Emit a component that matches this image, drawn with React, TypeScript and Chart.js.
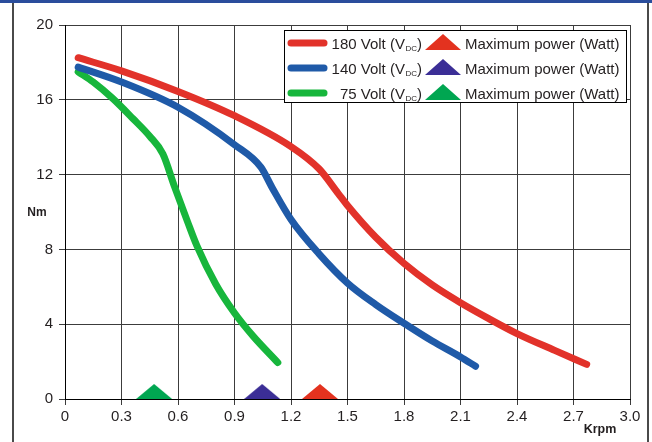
import React, { useEffect, useRef } from 'react';
import { Chart, registerables } from 'chart.js';

Chart.register(...registerables);

// ---------------- data ----------------
const xTickValues = [0, 0.3, 0.6, 0.9, 1.2, 1.5, 1.8, 2.1, 2.4, 2.7, 3.0];
const xTickLabels = ['0', '0.3', '0.6', '0.9', '1.2', '1.5', '1.8', '2.1', '2.4', '2.7', '3.0'];
const yTickValues = [0, 4, 8, 12, 16, 20];
const yTickLabels = ['0', '4', '8', '12', '16', '20'];

const seriesLabels = ['180 Volt', '140 Volt', '75 Volt'];
const maxPowerLabel = 'Maximum power (Watt)';
const xAxisTitle = 'Krpm';
const yAxisTitle = 'Nm';

const v180X = [0.07, 0.3, 0.6, 0.9, 1.2, 1.35, 1.45, 1.5, 1.65, 1.8, 1.95, 2.1, 2.25, 2.4, 2.6, 2.77];
const v180Y = [18.25, 17.55, 16.45, 15.15, 13.5, 12.3, 11.0, 10.35, 8.65, 7.25, 6.1, 5.15, 4.3, 3.5, 2.6, 1.85];

const v140X = [0.07, 0.3, 0.6, 0.9, 1.04, 1.1, 1.2, 1.35, 1.5, 1.65, 1.8, 1.95, 2.1, 2.18];
const v140Y = [17.75, 16.95, 15.6, 13.6, 12.4, 11.3, 9.6, 7.75, 6.2, 5.05, 4.05, 3.1, 2.25, 1.75];

const v75X = [0.07, 0.15, 0.25, 0.36, 0.45, 0.52, 0.58, 0.65, 0.7, 0.8, 0.9, 1.0, 1.13];
const v75Y = [17.5, 16.95, 16.1, 15.0, 14.05, 13.1, 11.4, 9.5, 8.2, 6.15, 4.6, 3.35, 1.95];

const maxPowerX = [1.354, 1.047, 0.473];
const maxPowerY = [0, 0, 0];

// ---------------- styles ----------------
const FONT = '"Liberation Sans", Arial, Helvetica, sans-serif';
const TEXT = '#231f20';
const lineColors = ['#e2322a', '#1f5aa8', '#17b63c'];
const triColors = ['#e3321f', '#3b2e96', '#00a651'];
const TRI_W = 36;
const TRI_H = 15;

function makeTriangle(color: string): HTMLCanvasElement {
  const c = document.createElement('canvas');
  c.width = TRI_W;
  c.height = TRI_H * 2 + 2;
  const ctx = c.getContext('2d')!;
  ctx.fillStyle = color;
  ctx.beginPath();
  ctx.moveTo(TRI_W / 2, 1);
  ctx.lineTo(TRI_W, TRI_H + 1);
  ctx.lineTo(0, TRI_H + 1);
  ctx.closePath();
  ctx.fill();
  return c;
}

function pts(xs: number[], ys: number[]) {
  return xs.map((x, i) => ({ x, y: ys[i] }));
}

export default function App() {
  const ref = useRef<HTMLCanvasElement | null>(null);

  useEffect(() => {
    if (!ref.current) return;
    const tris = triColors.map(makeTriangle);

    const curveSets = [
      pts(v180X, v180Y),
      pts(v140X, v140Y),
      pts(v75X, v75Y),
    ];

    const datasets: any[] = curveSets.map((d, i) => ({
      label: seriesLabels[i],
      data: d,
      showLine: true,
      borderColor: lineColors[i],
      backgroundColor: lineColors[i],
      borderWidth: 7,
      borderCapStyle: 'round',
      borderJoinStyle: 'round',
      pointRadius: 0,
      cubicInterpolationMode: 'monotone',
      order: 2,
    }));

    maxPowerX.forEach((x, i) => {
      datasets.push({
        label: maxPowerLabel,
        data: [{ x, y: maxPowerY[i] }],
        showLine: false,
        pointStyle: tris[i],
        pointRadius: 10,
        order: 1,
        clip: false,
      });
    });

    const decorPlugin = {
      id: 'decor',
      afterDraw(chart: any) {
        const ctx = chart.ctx as CanvasRenderingContext2D;
        ctx.save();
        // axis titles
        ctx.fillStyle = TEXT;
        ctx.font = `bold 12px ${FONT}`;
        ctx.textAlign = 'center';
        ctx.textBaseline = 'middle';
        ctx.fillText(yAxisTitle, 37, 213);
        ctx.font = `bold 12.5px ${FONT}`;
        ctx.fillText(xAxisTitle, 600, 430);

        // legend box
        const bx = 284, by = 30, bw = 342, bh = 72;
        ctx.fillStyle = '#ffffff';
        ctx.fillRect(bx, by, bw, bh);
        ctx.strokeStyle = '#000';
        ctx.lineWidth = 1;
        ctx.strokeRect(bx + 0.5, by + 0.5, bw, bh);

        const rows = [43, 68, 93];
        rows.forEach((ry, i) => {
          // line sample
          ctx.strokeStyle = lineColors[i];
          ctx.lineWidth = 7;
          ctx.lineCap = 'round';
          ctx.beginPath();
          ctx.moveTo(291, ry);
          ctx.lineTo(324, ry);
          ctx.stroke();

          // label, right aligned at 422
          ctx.fillStyle = TEXT;
          ctx.textBaseline = 'alphabetic';
          ctx.textAlign = 'left';
          const base = ry + 5.5;
          ctx.font = `15px ${FONT}`;
          const closeW = ctx.measureText(')').width;
          ctx.font = `8px ${FONT}`;
          const subW = ctx.measureText('DC').width;
          ctx.font = `15px ${FONT}`;
          const main = `${seriesLabels[i]} (V`;
          const mainW = ctx.measureText(main).width;
          let x = 422 - closeW - subW - mainW - 0.5;
          ctx.fillText(main, x, base);
          x += mainW + 0.5;
          ctx.font = `8px ${FONT}`;
          ctx.fillText('DC', x, base + 2);
          x += subW;
          ctx.font = `15px ${FONT}`;
          ctx.fillText(')', x, base);

          // triangle
          ctx.fillStyle = triColors[i];
          ctx.beginPath();
          ctx.moveTo(443, ry - 9);
          ctx.lineTo(461, ry + 7);
          ctx.lineTo(425, ry + 7);
          ctx.closePath();
          ctx.fill();

          ctx.fillStyle = TEXT;
          ctx.font = `15px ${FONT}`;
          ctx.fillText(maxPowerLabel, 465, base);
        });
        ctx.restore();
      },
    };

    const gridColor = '#3c3c3c';

    const chart = new Chart(ref.current, {
      type: 'scatter',
      data: { datasets },
      options: {
        responsive: false,
        animation: false,
        events: [],
        layout: { padding: { left: 0, right: 22, top: 25, bottom: 0 } },
        plugins: {
          legend: { display: false },
          tooltip: { enabled: false },
        },
        scales: {
          x: {
            type: 'linear',
            min: 0,
            max: 3,
            afterBuildTicks: (s: any) => {
              s.ticks = xTickValues.map((v) => ({ value: v }));
            },
            afterFit: (s: any) => {
              s.height = 43;
            },
            ticks: {
              autoSkip: false,
              maxRotation: 0,
              padding: 3,
              color: TEXT,
              font: { family: FONT, size: 15 },
              callback: (v: any) => {
                const i = xTickValues.findIndex((t) => Math.abs(t - Number(v)) < 1e-6);
                return i >= 0 ? xTickLabels[i] : '';
              },
            },
            grid: { color: gridColor, lineWidth: 1, tickLength: 6, drawTicks: true, tickColor: gridColor },
            border: { color: '#000', width: 1 },
          },
          y: {
            type: 'linear',
            min: 0,
            max: 20,
            afterBuildTicks: (s: any) => {
              s.ticks = yTickValues.map((v) => ({ value: v }));
            },
            afterFit: (s: any) => {
              s.width = 65;
            },
            ticks: {
              autoSkip: false,
              padding: 6,
              color: TEXT,
              font: { family: FONT, size: 15 },
              callback: (v: any) => {
                const i = yTickValues.indexOf(Number(v));
                return i >= 0 ? yTickLabels[i] : '';
              },
            },
            grid: { color: gridColor, lineWidth: 1, tickLength: 6, drawTicks: true, tickColor: gridColor },
            border: { color: '#000', width: 1 },
          },
        },
      } as any,
      plugins: [decorPlugin],
    });

    return () => chart.destroy();
  }, []);

  return (
    <div style={{ position: 'absolute', left: 0, top: 0, width: 652, height: 442, background: '#fff', overflow: 'hidden' }}>
      <canvas ref={ref} width={652} height={442} style={{ position: 'absolute', left: 0, top: 0, width: 652, height: 442 }} />
      <div style={{ position: 'absolute', left: 0, top: 0, width: 652, height: 3, background: '#2a4d9c' }} />
      <div style={{ position: 'absolute', left: 12, top: 3, width: 2, height: 439, background: '#4a4a4a' }} />
      <div style={{ position: 'absolute', left: 647, top: 3, width: 2, height: 439, background: '#4a4a4a' }} />
    </div>
  );
}
